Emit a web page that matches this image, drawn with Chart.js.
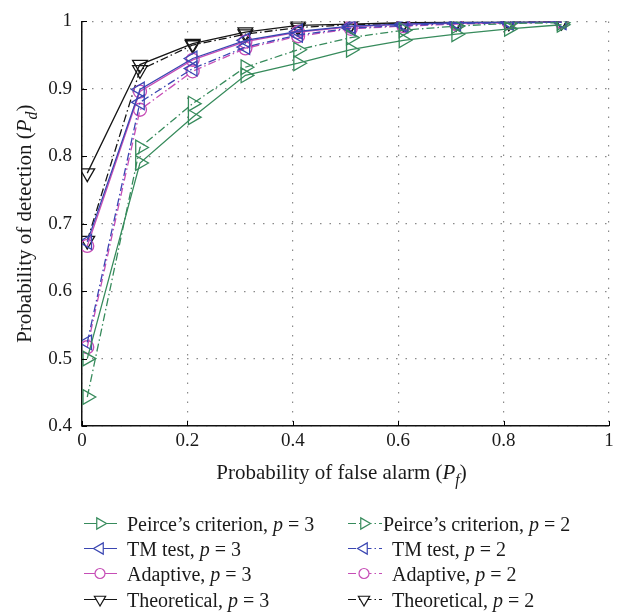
<!DOCTYPE html>
<html>
<head>
<meta charset="utf-8">
<script src="https://cdn.jsdelivr.net/npm/chart.js@4.4.1/dist/chart.umd.min.js"></script>
<style>
  html, body { margin: 0; padding: 0; background: #fff; }
  #wrap { width: 632px; height: 616px; }
</style>
</head>
<body>
<div id="wrap"><canvas id="chart" width="632" height="616"></canvas></div>
<script>
// data
const falseAlarm = [0.01, 0.11, 0.21, 0.31, 0.41, 0.51, 0.61, 0.71, 0.81, 0.91];
const peirce3 = [0.500, 0.790, 0.858, 0.920, 0.938, 0.958, 0.972, 0.981, 0.989, 0.995];
const peirce2 = [0.443, 0.813, 0.878, 0.932, 0.958, 0.976, 0.987, 0.993, 0.997, 0.998];
const tm3 = [0.673, 0.899, 0.945, 0.972, 0.985, 0.993, 0.996, 0.998, 0.999, 0.999];
const tm2 = [0.524, 0.880, 0.930, 0.962, 0.980, 0.990, 0.994, 0.997, 0.998, 0.999];
const adapt3 = [0.667, 0.896, 0.943, 0.970, 0.984, 0.992, 0.996, 0.997, 0.998, 0.999];
const adapt2 = [0.517, 0.869, 0.926, 0.960, 0.978, 0.989, 0.993, 0.996, 0.998, 0.999];
const theo3 = [0.775, 0.936, 0.967, 0.984, 0.994, 0.996, 0.998, 0.999, 0.999, 1.000];
const theo2 = [0.675, 0.928, 0.965, 0.981, 0.991, 0.995, 0.997, 0.998, 0.999, 1.000];

const xTicks = [0, 0.2, 0.4, 0.6, 0.8, 1];
const yTicks = [0.4, 0.5, 0.6, 0.7, 0.8, 0.9, 1];

const GREEN = '#378b5c';
const BLUE = '#3a46b2';
const MAGENTA = '#c64db6';
const BLACK = '#161616';
const DASHDOT = [8, 3, 1.5, 3];
const SERIF = '"Liberation Serif", "DejaVu Serif", serif';

const series = [
  { name: 'Peirce\u2019s criterion', p: 3, data: peirce3, color: GREEN, style: 'triangle', rot: 90, r: 8.5, dash: [] },
  { name: 'Peirce\u2019s criterion', p: 2, data: peirce2, color: GREEN, style: 'triangle', rot: 90, r: 8.5, dash: DASHDOT },
  { name: 'TM test', p: 3, data: tm3, color: BLUE, style: 'triangle', rot: -90, r: 8.5, dash: [] },
  { name: 'TM test', p: 2, data: tm2, color: BLUE, style: 'triangle', rot: -90, r: 8.5, dash: DASHDOT },
  { name: 'Adaptive', p: 3, data: adapt3, color: MAGENTA, style: 'circle', rot: 0, r: 6.5, dash: [] },
  { name: 'Adaptive', p: 2, data: adapt2, color: MAGENTA, style: 'circle', rot: 0, r: 6.5, dash: DASHDOT },
  { name: 'Theoretical', p: 3, data: theo3, color: BLACK, style: 'triangle', rot: 180, r: 8.5, dash: [] },
  { name: 'Theoretical', p: 2, data: theo2, color: BLACK, style: 'triangle', rot: 180, r: 8.5, dash: DASHDOT }
];

const datasets = series.map(s => ({
  label: s.name + ', p = ' + s.p,
  data: falseAlarm.map((x, i) => ({ x: x, y: s.data[i] })),
  borderColor: s.color,
  borderWidth: 1.3,
  borderDash: s.dash,
  pointStyle: s.style,
  pointRotation: s.rot,
  pointRadius: s.r,
  pointBorderWidth: 1.3,
  pointBorderColor: s.color,
  pointBackgroundColor: 'rgba(0,0,0,0)',
  showLine: true,
  tension: 0,
  fill: false
}));

function fmt(v) {
  return String(Number(v.toFixed(1)));
}

// axis titles and legend with italic symbols
const textPlugin = {
  id: 'texts',
  afterDraw(chart) {
    const ctx = chart.ctx;
    const area = chart.chartArea;
    ctx.save();

    // inward tick marks on left and bottom axes
    ctx.strokeStyle = '#000';
    ctx.lineWidth = 1;
    const xs = chart.scales.x, ys = chart.scales.y;
    xTicks.forEach(t => {
      const px = Math.round(xs.getPixelForValue(t)) + 0.5;
      ctx.beginPath(); ctx.moveTo(px, area.bottom); ctx.lineTo(px, area.bottom - 5); ctx.stroke();
    });
    yTicks.forEach(t => {
      const py = Math.round(ys.getPixelForValue(t)) + 0.5;
      ctx.beginPath(); ctx.moveTo(area.left, py); ctx.lineTo(area.left + 5, py); ctx.stroke();
    });

    ctx.fillStyle = '#1a1a1a';
    ctx.textBaseline = 'alphabetic';

    // pieces: [text, italic, subscript]
    function drawPieces(pieces, size) {
      let w = 0;
      const widths = pieces.map(pc => {
        ctx.font = (pc[1] ? 'italic ' : '') + (pc[2] ? size * 0.75 : size) + 'px ' + SERIF;
        const m = ctx.measureText(pc[0]).width;
        w += m;
        return m;
      });
      let x = -w / 2;
      pieces.forEach((pc, i) => {
        ctx.font = (pc[1] ? 'italic ' : '') + (pc[2] ? size * 0.75 : size) + 'px ' + SERIF;
        ctx.fillText(pc[0], x, pc[2] ? size * 0.3 : 0);
        x += widths[i];
      });
    }

    // x title
    ctx.save();
    ctx.translate((area.left + area.right) / 2 - 4, 479);
    drawPieces([['Probability of false alarm (', false, false], ['P', true, false], ['f', true, true], [')', false, false]], 21);
    ctx.restore();

    // y title
    ctx.save();
    ctx.translate(31, (area.top + area.bottom) / 2);
    ctx.rotate(-Math.PI / 2);
    drawPieces([['Probability of detection (', false, false], ['P', true, false], ['d', true, true], [')', false, false]], 21);
    ctx.restore();

    // legend
    const rows = [523.5, 548.5, 573.5, 599.5];
    const cols = [
      { x0: 84, x1: 117, mk: 100, tx: 127 },
      { x0: 348, x1: 382, mk: 364, tx: 392 }
    ];
    series.forEach((s, i) => {
      const col = cols[s.p === 3 ? 0 : 1];
      const y = rows[Math.floor(i / 2)];
      ctx.save();
      ctx.strokeStyle = s.color;
      ctx.lineWidth = 1.2;
      ctx.setLineDash(s.dash);
      ctx.beginPath(); ctx.moveTo(col.x0, y); ctx.lineTo(col.x1, y); ctx.stroke();
      ctx.setLineDash([]);
      ctx.fillStyle = '#fff';
      Chart.helpers.drawPoint(ctx, {
        pointStyle: s.style, rotation: s.rot, radius: s.style === 'circle' ? 5 : 6.5, borderWidth: 1.2
      }, col.mk, y);
      ctx.restore();

      let tx = col.tx;
      if (s.p === 2 && i === 1) tx = 383;
      const fs = 20;
      ctx.font = fs + 'px ' + SERIF;
      const a = s.name + ', ';
      ctx.fillText(a, tx, y + 7);
      tx += ctx.measureText(a).width;
      ctx.font = 'italic ' + fs + 'px ' + SERIF;
      ctx.fillText('p', tx, y + 7);
      tx += ctx.measureText('p').width;
      ctx.font = fs + 'px ' + SERIF;
      ctx.fillText(' = ' + s.p, tx, y + 7);
    });

    ctx.restore();
  }
};

const gridOpts = {
  color: '#8a8a8a',
  lineWidth: 1.2,
  drawTicks: false
};

new Chart(document.getElementById('chart'), {
  type: 'line',
  data: { datasets: datasets },
  options: {
    responsive: false,
    animation: false,
    layout: { padding: { left: 0, top: 11, right: 23, bottom: 0 }, autoPadding: false },
    plugins: { legend: { display: false }, tooltip: { enabled: false } },
    scales: {
      x: {
        type: 'linear',
        min: 0, max: 1,
        afterBuildTicks: sc => { sc.ticks = xTicks.map(v => ({ value: v })); },
        afterFit: sc => { sc.height = 190; },
        ticks: { callback: v => fmt(v), color: '#1a1a1a', font: { family: SERIF, size: 19 }, padding: 4, maxRotation: 0 },
        grid: gridOpts,
        border: { display: true, color: '#111', width: 1.5, dash: [1.5, 8] }
      },
      y: {
        type: 'linear',
        min: 0.4, max: 1,
        afterBuildTicks: sc => { sc.ticks = yTicks.map(v => ({ value: v })); },
        afterFit: sc => { sc.width = 82; },
        ticks: { callback: v => fmt(v), color: '#1a1a1a', font: { family: SERIF, size: 19 }, padding: 10 },
        grid: gridOpts,
        border: { display: true, color: '#111', width: 1.5, dash: [1.5, 8] }
      }
    }
  },
  plugins: [textPlugin]
});
</script>
</body>
</html>
